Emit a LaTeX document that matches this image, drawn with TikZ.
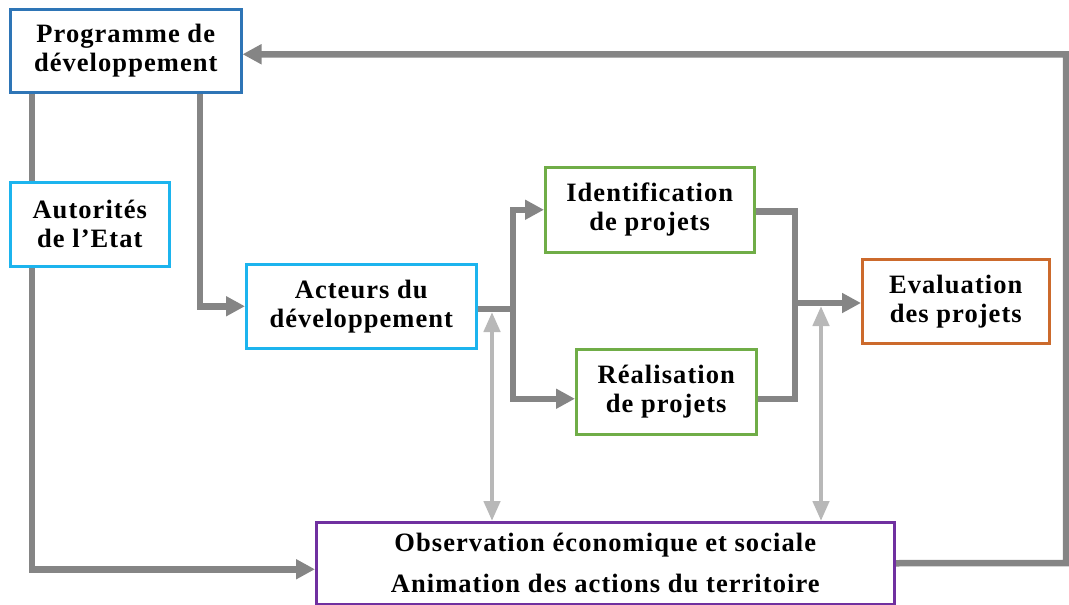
\documentclass[tikz,border=0pt]{standalone}
\usepackage{fontspec}
\setmainfont{Liberation Serif}
\newfontfamily\bxfamily[LetterSpace=4]{Liberation Serif}
\usetikzlibrary{arrows.meta,backgrounds}
\definecolor{cblue}{HTML}{2E75B6}
\definecolor{ccyan}{HTML}{1CB4EE}
\definecolor{cgreen}{HTML}{70AD47}
\definecolor{corange}{HTML}{CC6A2C}
\definecolor{cpurple}{HTML}{7030A0}
\definecolor{dg}{HTML}{858585}
\definecolor{lg}{HTML}{B8B8B8}
\tikzset{
  box/.style={draw, line width=2.5pt, fill=white, inner sep=0pt, align=center,
    anchor=north west, font=\bxfamily\bfseries\fontsize{26.5}{29}\selectfont},
  conn/.style={draw=dg, line width=6.5pt, line cap=rect, -{Triangle[length=19pt,width=19pt]}},
  conn2/.style={draw=dg, line width=6.5pt, {Triangle[length=19pt,width=19pt]}-{Triangle[length=19pt,width=19pt]}},
  plain/.style={draw=dg, line width=6.5pt, line cap=rect},
  lconn/.style={draw=lg, line width=4.5pt, {Triangle[length=20pt,width=16pt]}-{Triangle[length=20pt,width=16pt]}},
}
\begin{document}
\begin{tikzpicture}[x=1pt,y=-1pt]
\useasboundingbox (0,0) rectangle (1069,605);
\node[box, draw=cblue, minimum width=231, minimum height=83] (prog) at (9,8) {Programme de\\développement};
\node[box, draw=ccyan, minimum width=159, minimum height=84] (aut) at (9,181) {Autorités\\de l’Etat};
\node[box, draw=ccyan, minimum width=230, minimum height=84] (act) at (245,263) {Acteurs du\\développement};
\node[box, draw=cgreen, minimum width=209, minimum height=85] (ident) at (544,166) {Identification\\de projets};
\node[box, draw=cgreen, minimum width=180, minimum height=85] (real) at (575,348) {Réalisation\\de projets};
\node[box, draw=corange, minimum width=187, minimum height=84] (eval) at (861,258) {Evaluation\\des projets};
\node[box, draw=cpurple, minimum width=578, minimum height=82] (obs) at (315,521) {Observation économique et sociale\\[12pt]Animation des actions du territoire};
\coordinate (fb) at (1066,563);
\coordinate (sp) at (513,309);
\coordinate (mg) at (795,303);
\coordinate (l1) at (492,312);
\coordinate (l2) at (821,306);
\begin{scope}[on background layer]
\draw[conn] ([xshift=23pt]prog.south west) |- ([yshift=-6pt]obs.west);
\draw[conn] (obs.east) -- (fb) |- ([yshift=-3.5pt]prog.east);
\draw[conn] ([xshift=191pt]prog.south west) |- (act.west);
\draw[plain] (act.east |- sp) -- (sp);
\draw[conn2] (ident.west) -| (sp) |- ([yshift=-7pt]real.west);
\draw[plain] ([yshift=-1.5pt]ident.east) -| (mg) |- ([yshift=-7pt]real.east);
\draw[conn] (mg) -- (eval.west |- mg);
\draw[lconn] (l1) -- (l1 |- obs.north);
\draw[lconn] (l2) -- (l2 |- obs.north);
\end{scope}
\end{tikzpicture}
\end{document}
